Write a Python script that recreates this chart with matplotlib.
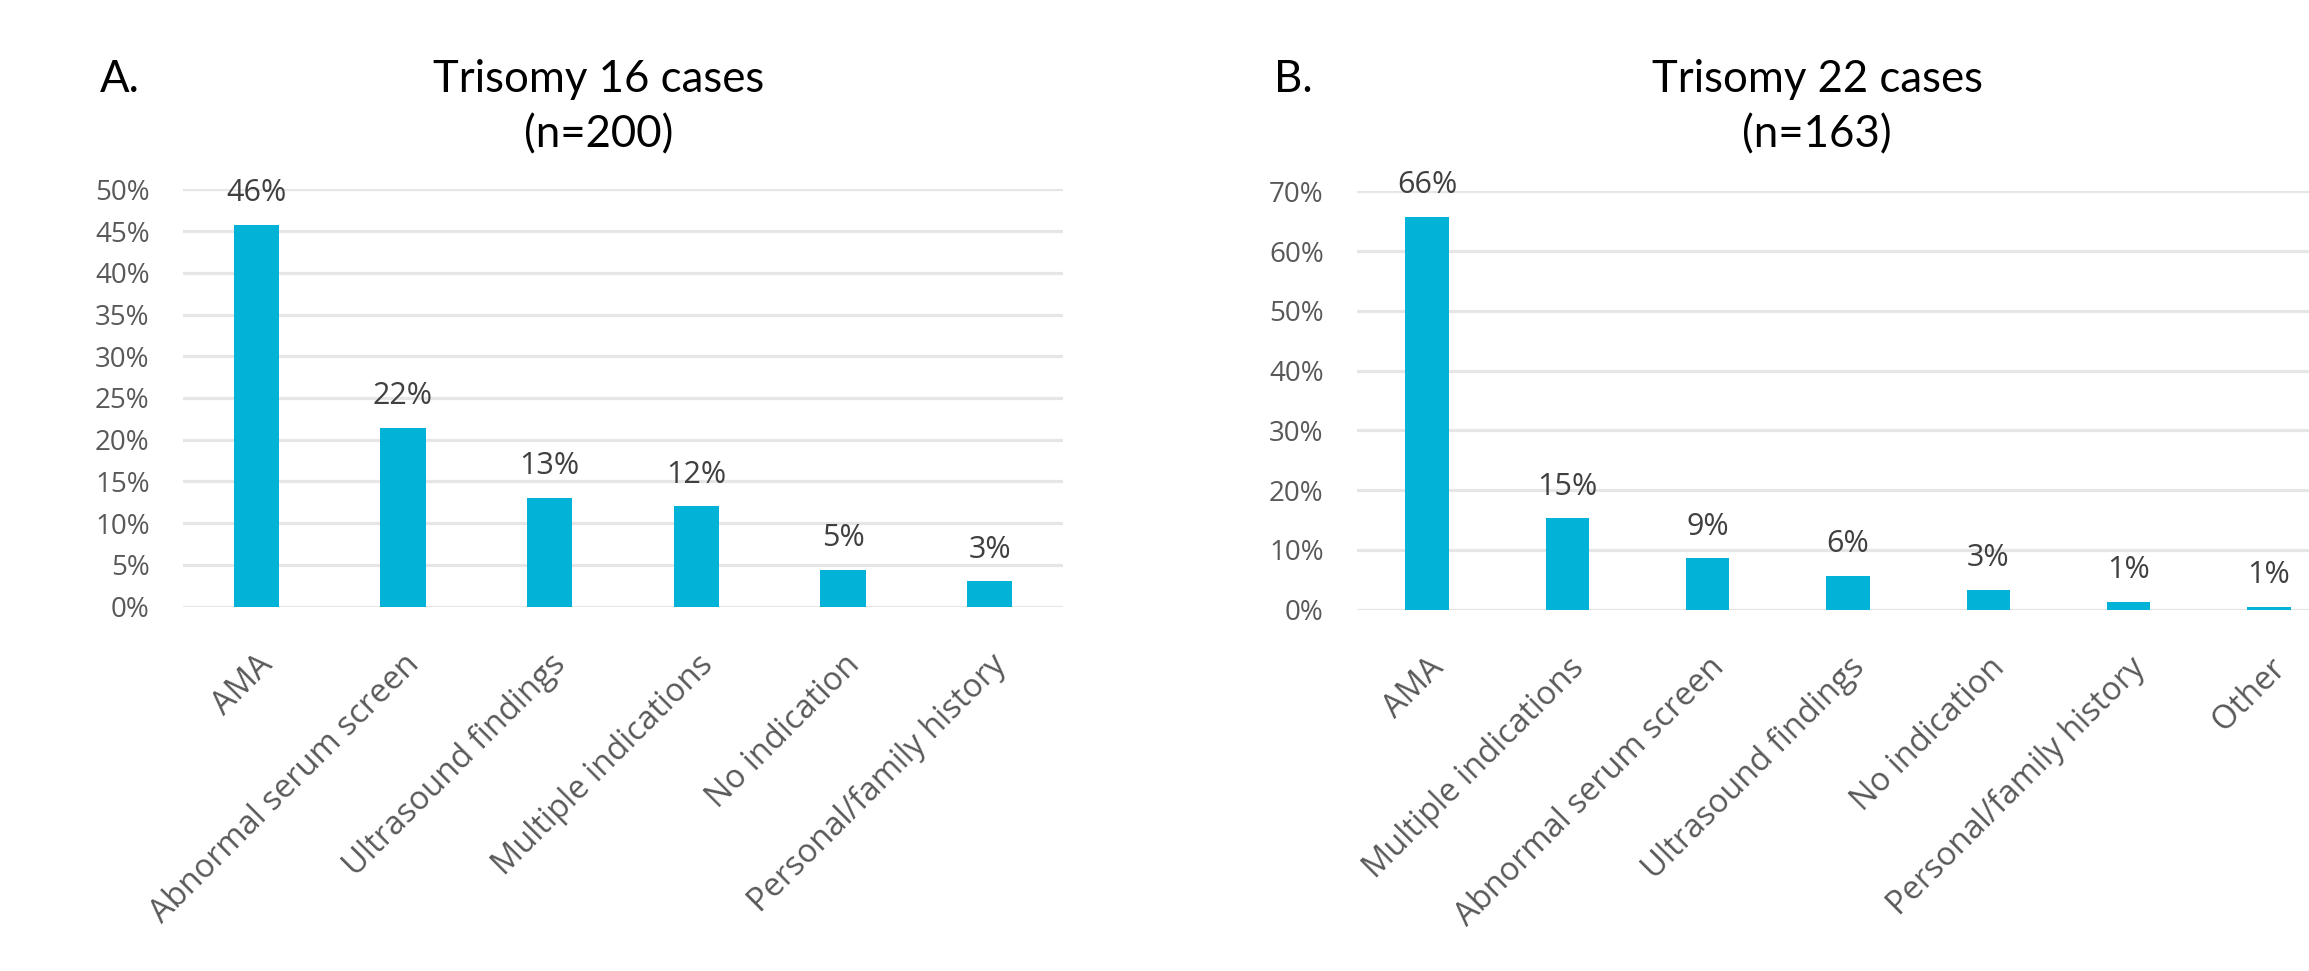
import matplotlib
matplotlib.use("Agg")
import matplotlib.pyplot as plt
from matplotlib.ticker import PercentFormatter

# --- Données --- #
t16_categories = ["AMA", "Abnormal serum screen", "Ultrasound findings",
                  "Multiple indications", "No indication", "Personal/family history"]
t16_values = [0.458, 0.214, 0.130, 0.120, 0.044, 0.030]
t16_labels = ["46%", "22%", "13%", "12%", "5%", "3%"]

t22_categories = ["AMA", "Multiple indications", "Abnormal serum screen",
                  "Ultrasound findings", "No indication", "Personal/family history", "Other"]
t22_values = [0.658, 0.153, 0.086, 0.056, 0.033, 0.013, 0.005]
t22_labels = ["66%", "15%", "9%", "6%", "3%", "1%", "1%"]

BAR_COLOR = "#02B3D7"
GRID_COLOR = "#E6E6E6"
TICK_COLOR = "#595959"
LABEL_COLOR = "#404040"
BODY_FONT = "Open Sans"
TITLE_FONT = "Lato"

W, H = 2309, 971
fig = plt.figure(figsize=(W / 100, H / 100), dpi=100)


def px_axes(left, right, top, bottom):
    """axes défini en pixels (origine en haut à gauche)"""
    return fig.add_axes([left / W, 1 - bottom / H, (right - left) / W, (bottom - top) / H])


def draw_panel(ax, cats, vals, labels, ymax, ystep, bar_width):
    x = range(len(cats))
    ax.bar(x, vals, width=bar_width, color=BAR_COLOR, zorder=3)

    for xi, v, lab in zip(x, vals, labels):
        ax.annotate(lab, (xi, v), xytext=(0, 17), textcoords="offset points",
                    ha="center", va="baseline", fontsize=22,
                    family=BODY_FONT, color=LABEL_COLOR)

    ax.set_xlim(-0.5, len(cats) - 0.5)
    ax.set_ylim(0, ymax)
    ax.set_yticks([i * ystep for i in range(int(round(ymax / ystep)) + 1)])
    ax.yaxis.set_major_formatter(PercentFormatter(1.0, decimals=0))
    ax.grid(axis="y", color=GRID_COLOR, linewidth=2.3, zorder=0)
    ax.set_axisbelow(True)

    for s in ax.spines.values():
        s.set_visible(False)

    ax.tick_params(axis="y", length=0, pad=24, labelsize=20, labelcolor=TICK_COLOR)
    ax.tick_params(axis="x", length=0, pad=30, labelsize=23.5, labelcolor=TICK_COLOR)
    for lbl in ax.get_yticklabels():
        lbl.set_family(BODY_FONT)
        lbl.set_verticalalignment("center_baseline")

    ax.set_xticks(list(x))
    ax.set_xticklabels(cats, rotation=45, ha="right", rotation_mode="anchor",
                       family=BODY_FONT)


def panel_title(letter, x_letter, title, subtitle, x_center):
    kw = dict(fontsize=31.5, family=TITLE_FONT, color="black", va="baseline")
    fig.text(x_letter / W, 1 - 92 / H, letter, ha="left", **kw)
    fig.text(x_center / W, 1 - 92 / H, title, ha="center", **kw)
    fig.text(x_center / W, 1 - 147 / H, subtitle, ha="center", **kw)


# --- Panneau A --- #
axA = px_axes(183, 1063, 189.5, 606.5)
draw_panel(axA, t16_categories, t16_values, t16_labels, 0.5, 0.05, 0.31)

# --- Panneau B (coupé à droite comme l'original) --- #
axB = px_axes(1357, 2339, 191.5, 609.5)
draw_panel(axB, t22_categories, t22_values, t22_labels, 0.7, 0.1, 0.31)

panel_title("A.", 100, "Trisomy 16 cases", "(n=200)", 599)
panel_title("B.", 1274, "Trisomy 22 cases", "(n=163)", 1817)

fig.savefig("out.png", dpi=100)
